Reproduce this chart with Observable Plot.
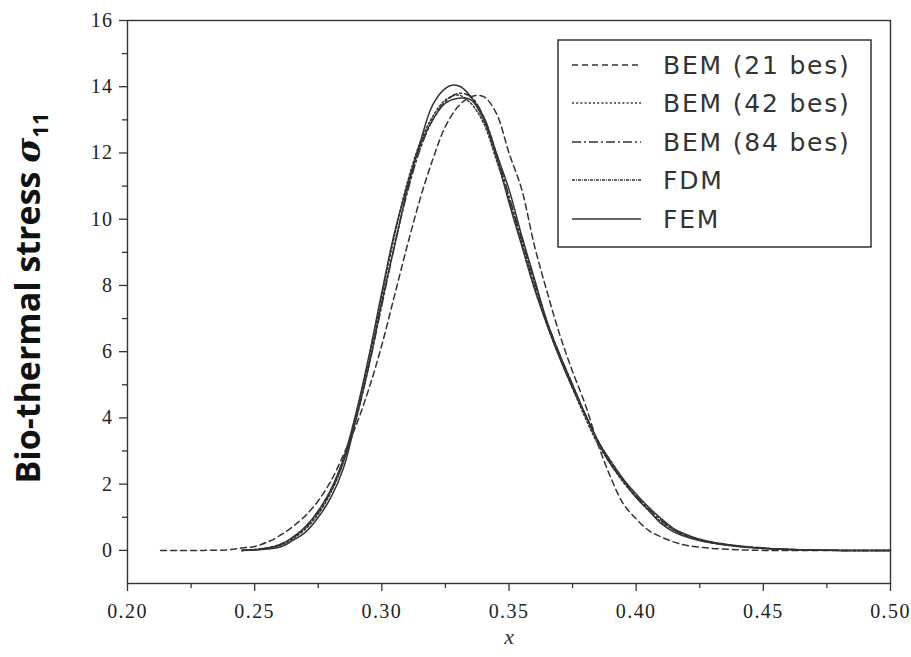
<!DOCTYPE html>
<html>
<head>
<meta charset="utf-8">
<script src="https://cdn.jsdelivr.net/npm/d3@7"></script>
<script src="https://cdn.jsdelivr.net/npm/@observablehq/plot@0.6"></script>
<style>
  body { margin: 0; background: #fff; }
  #wrap { position: relative; width: 911px; height: 657px; }
  #legend { position: absolute; left: 557px; top: 39px; }
  #wrap svg g[aria-label="x-axis tick label"] text,
  #wrap svg g[aria-label="y-axis tick label"] text {
    font-family: "Liberation Serif", serif !important;
    font-size: 20px !important;
    letter-spacing: 1.4px;
    fill: #222 !important;
  }
</style>
</head>
<body>
<div id="wrap"></div>
<script>
// ---- data ----
const xBEM21 = [0.213,0.22,0.23,0.24,0.245,0.25,0.255,0.26,0.265,0.27,0.275,0.28,0.285,0.29,0.295,0.30,0.305,0.31,0.315,0.32,0.325,0.33,0.335,0.34,0.345,0.35,0.355,0.36,0.365,0.37,0.375,0.38,0.385,0.39,0.395,0.40,0.405,0.41,0.415,0.42,0.43,0.44,0.45,0.47,0.50];
const yBEM21 = [0,0,0,0.02,0.07,0.12,0.25,0.45,0.72,1.05,1.5,2.1,2.9,3.8,4.9,6.2,7.7,9.2,10.6,11.8,12.8,13.4,13.7,13.7,13.2,12.0,10.9,9.2,7.8,6.5,5.4,4.4,3.2,2.2,1.4,0.95,0.6,0.4,0.25,0.15,0.06,0.02,0,0,0];

const xBEM42 = [0.245,0.25,0.255,0.26,0.265,0.27,0.275,0.28,0.285,0.29,0.295,0.30,0.305,0.31,0.315,0.32,0.325,0.33,0.335,0.34,0.345,0.35,0.355,0.36,0.365,0.37,0.375,0.38,0.385,0.39,0.395,0.40,0.405,0.41,0.415,0.42,0.425,0.43,0.44,0.45,0.46,0.47,0.48,0.50];
const yBEM42 = [0,0.02,0.06,0.15,0.35,0.65,1.1,1.75,2.7,4.1,5.8,7.7,9.5,11.1,12.3,13.1,13.6,13.75,13.5,12.9,11.8,10.6,9.3,8.0,6.8,5.8,4.9,4.0,3.2,2.6,2.05,1.6,1.2,0.85,0.6,0.42,0.3,0.22,0.12,0.06,0.03,0.01,0,0];

const xBEM84 = [0.245,0.25,0.255,0.26,0.265,0.27,0.275,0.28,0.285,0.29,0.295,0.30,0.305,0.31,0.315,0.32,0.325,0.33,0.335,0.34,0.345,0.35,0.355,0.36,0.365,0.37,0.375,0.38,0.385,0.39,0.395,0.40,0.405,0.41,0.415,0.42,0.425,0.43,0.44,0.45,0.46,0.47,0.48,0.50];
const yBEM84 = [0,0.03,0.08,0.18,0.38,0.7,1.15,1.8,2.7,4.0,5.6,7.4,9.2,10.8,12.1,13.0,13.55,13.8,13.7,13.1,12.0,10.7,9.4,8.1,6.9,5.9,5.0,4.1,3.3,2.65,2.1,1.65,1.25,0.9,0.62,0.44,0.32,0.23,0.13,0.07,0.03,0.01,0,0];

const xFDM = [0.245,0.25,0.255,0.26,0.265,0.27,0.275,0.28,0.285,0.29,0.295,0.30,0.305,0.31,0.315,0.32,0.325,0.33,0.335,0.34,0.345,0.35,0.355,0.36,0.365,0.37,0.375,0.38,0.385,0.39,0.395,0.40,0.405,0.41,0.415,0.42,0.425,0.43,0.44,0.45,0.46,0.47,0.48,0.50];
const yFDM = [0,0.02,0.07,0.17,0.4,0.72,1.2,1.85,2.8,4.2,5.9,7.8,9.6,11.0,12.2,13.0,13.5,13.65,13.6,13.0,11.9,10.5,9.2,7.9,6.8,5.8,4.9,4.1,3.3,2.7,2.15,1.7,1.3,0.95,0.65,0.47,0.34,0.25,0.14,0.07,0.03,0.01,0,0];

const xFEM = [0.245,0.25,0.255,0.26,0.265,0.27,0.275,0.28,0.285,0.29,0.295,0.30,0.305,0.31,0.315,0.32,0.325,0.328,0.331,0.335,0.34,0.345,0.35,0.355,0.36,0.365,0.37,0.375,0.38,0.385,0.39,0.395,0.40,0.405,0.41,0.415,0.42,0.425,0.43,0.44,0.45,0.46,0.47,0.48,0.50];
const yFEM = [0,0.01,0.04,0.1,0.3,0.55,1.0,1.6,2.5,4.0,5.6,7.5,9.2,10.9,12.3,13.45,13.95,14.05,14.0,13.7,13.1,12.0,10.9,9.5,8.2,6.9,5.9,5.0,4.1,3.3,2.6,2.1,1.6,1.2,0.8,0.55,0.4,0.3,0.22,0.12,0.06,0.03,0.01,0,0];

const seriesNames = ["BEM (21 bes)", "BEM (42 bes)", "BEM (84 bes)", "FDM", "FEM"];
const seriesDash = ["6,4", "2,2.2", "9,3,2,3", "3,1,1,1", "none"];
const seriesX = [xBEM21, xBEM42, xBEM84, xFDM, xFEM];
const seriesY = [yBEM21, yBEM42, yBEM84, yFDM, yFEM];

const xMajor = [0.20,0.25,0.30,0.35,0.40,0.45,0.50];
const xMinor = [0.225,0.275,0.325,0.375,0.425,0.475];
const yMajor = [0,2,4,6,8,10,12,14,16];
const yMinor = [1,3,5,7,9,11,13,15];

const ink = "#333";

const lineMarks = seriesNames.map((name, k) => {
  const rows = seriesX[k].map((x, i) => ({x, y: seriesY[k][i], name}));
  return Plot.line(rows, {x: "x", y: "y", stroke: ink, strokeWidth: 1.5,
    strokeDasharray: seriesDash[k] === "none" ? null : seriesDash[k], curve: "catmull-rom"});
});

const plot = Plot.plot({
  width: 911, height: 657,
  marginLeft: 127, marginRight: 21, marginTop: 20, marginBottom: 74,
  style: {background: "#fff"},
  x: {domain: [0.2, 0.5]},
  y: {domain: [-1, 16]},
  marks: [
    Plot.frame({stroke: ink, strokeWidth: 1.4}),
    Plot.axisX(xMajor, {tickSize: 8, tickFormat: d3.format(".2f"), fontSize: 20, stroke: ink, strokeWidth: 1.3, tickPadding: 12, label: null}),
    Plot.axisX(xMinor, {tickSize: 5, tickFormat: () => "", stroke: ink, strokeWidth: 1.3, label: null}),
    Plot.axisY(yMajor, {tickSize: 8, tickFormat: d3.format("d"), fontSize: 20, stroke: ink, strokeWidth: 1.3, tickPadding: 6, label: null}),
    Plot.axisY(yMinor, {tickSize: 5, tickFormat: () => "", stroke: ink, strokeWidth: 1.3, label: null}),
    ...lineMarks,
    Plot.text(["x"], {frameAnchor: "bottom", dy: 60, fontFamily: "Liberation Serif", fontStyle: "italic", fontSize: 22, fill: "#333"})
  ]
});

document.getElementById("wrap").appendChild(plot);

const svg = d3.select(plot);

// y-axis title with subscript
const yt = svg.append("text")
  .attr("transform", `translate(40, 298) rotate(-90)`)
  .attr("text-anchor", "middle")
  .attr("font-family", "Open Sans")
  .attr("font-weight", "bold")
  .attr("font-size", 34)
  .attr("fill", "#111");
yt.append("tspan").text("Bio-thermal stress ");
yt.append("tspan").attr("font-style", "italic").attr("font-family", "DejaVu Serif").text("σ");
yt.append("tspan").attr("font-size", 22).attr("dy", 8).text("11");

// legend
const lg = d3.select("#wrap").append("svg").attr("id", "legend")
  .attr("width", 316).attr("height", 210);
lg.append("rect").attr("x", 1).attr("y", 1).attr("width", 313).attr("height", 207)
  .attr("fill", "#fff").attr("stroke", ink).attr("stroke-width", 1.5);
const rowY = [26, 64, 103, 141, 180];
seriesNames.forEach((name, k) => {
  lg.append("line").attr("x1", 15).attr("x2", 84).attr("y1", rowY[k]).attr("y2", rowY[k])
    .attr("stroke", ink).attr("stroke-width", 1.4)
    .attr("stroke-dasharray", seriesDash[k] === "none" ? null : seriesDash[k]);
  lg.append("text").attr("x", 106).attr("y", rowY[k]).attr("dy", "0.36em")
    .attr("font-family", "DejaVu Sans").attr("font-size", 25).attr("fill", ink)
    .attr("letter-spacing", 1.8)
    .style("white-space", "pre")
    .text(name);
});
</script>
</body>
</html>
